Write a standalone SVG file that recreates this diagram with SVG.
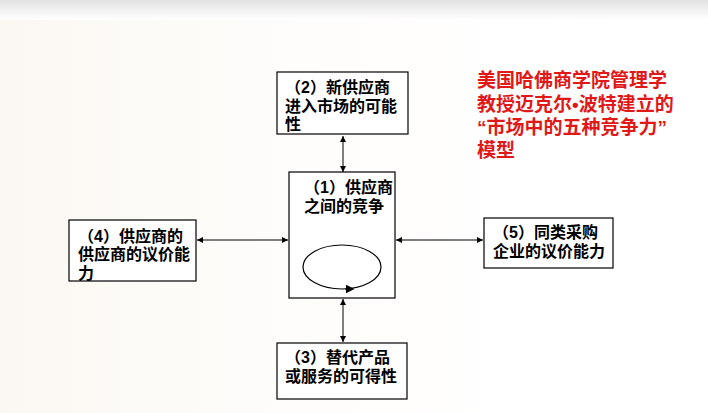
<svg xmlns="http://www.w3.org/2000/svg" width="708" height="413" viewBox="0 0 708 413">
<defs>
<linearGradient id="top" x1="0" y1="0" x2="0" y2="1">
<stop offset="0" stop-color="#e2e2e2"/>
<stop offset="1" stop-color="#ffffff"/>
</linearGradient>
<linearGradient id="left" x1="0" y1="0" x2="1" y2="0">
<stop offset="0" stop-color="#faf6ef"/>
<stop offset="1" stop-color="#ffffff" stop-opacity="0"/>
</linearGradient>
<marker id="ah" viewBox="0 0 10 10" refX="10" refY="5" markerWidth="6" markerHeight="6" orient="auto-start-reverse" markerUnits="userSpaceOnUse">
<path d="M0,0 L10,5 L0,10 z" fill="#000"/>
</marker>
<marker id="ahe" viewBox="0 0 10 10" refX="5" refY="5" markerWidth="9" markerHeight="9" orient="auto" markerUnits="userSpaceOnUse">
<path d="M0,0 L10,5 L0,10 z" fill="#000"/>
</marker>
</defs>
<style>
.box{fill:#fff;stroke:#000;stroke-width:1.2}
.t{font-family:"Liberation Sans","Noto Sans CJK SC",sans-serif;font-size:16px;font-weight:bold;fill:#000}
.r{font-family:"Liberation Sans","Noto Sans CJK SC",sans-serif;font-size:19px;font-weight:bold;fill:#e01818}
.c{stroke:#000;stroke-width:1;fill:none}
</style>
<rect width="708" height="413" fill="#fff"/>
<rect width="708" height="413" fill="url(#left)" opacity="0.8"/>
<rect width="708" height="20" fill="url(#top)"/>
<g id="connectors">
<line class="c" x1="343" y1="136" x2="343" y2="172" marker-start="url(#ah)" marker-end="url(#ah)"/>
<line class="c" x1="343" y1="299" x2="343" y2="342" stroke="#555" stroke-width="1.8" marker-start="url(#ah)" marker-end="url(#ah)"/>
<line class="c" x1="197" y1="240" x2="288" y2="240" marker-start="url(#ah)" marker-end="url(#ah)"/>
<line class="c" x1="396" y1="240" x2="483" y2="240" marker-start="url(#ah)" marker-end="url(#ah)"/>
</g>
<g id="n2">
<rect class="box" x="277" y="72" width="131" height="62"/>
<text class="t"><tspan x="285" y="93">（2）新供应商</tspan><tspan x="285" y="111.5">进入市场的可能</tspan><tspan x="285" y="130">性</tspan></text>
</g>
<g id="n1">
<rect class="box" x="289" y="172" width="106" height="126"/>
<text class="t"><tspan x="304" y="193">（1）供应商</tspan><tspan x="304" y="212">之间的竞争</tspan></text>
<ellipse cx="342" cy="267" rx="39" ry="22" fill="none" stroke="#000" stroke-width="1.2"/>
<path d="M345,289 L350,289" fill="none" stroke="#000" stroke-width="1" marker-end="url(#ahe)"/>
</g>
<g id="n4">
<rect class="box" x="69" y="220" width="127" height="61"/>
<text class="t"><tspan x="78" y="241.5">（4）供应商的</tspan><tspan x="78" y="260">供应商的议价能</tspan><tspan x="78" y="278.5">力</tspan></text>
</g>
<g id="n5">
<rect class="box" x="484" y="218" width="129" height="50"/>
<text class="t"><tspan x="493" y="238">（5）同类采购</tspan><tspan x="493" y="257">企业的议价能力</tspan></text>
</g>
<g id="n3">
<rect class="box" x="277" y="343" width="130" height="56"/>
<text class="t"><tspan x="285" y="362.5">（3）替代产品</tspan><tspan x="285" y="381.5">或服务的可得性</tspan></text>
</g>
<g id="note">
<text class="r"><tspan x="477" y="87">美国哈佛商学院管理学</tspan><tspan x="477" y="111">教授迈克尔•波特建立的</tspan><tspan x="477" y="134">“市场中的五种竞争力”</tspan><tspan x="477" y="157">模型</tspan></text>
</g>
</svg>
